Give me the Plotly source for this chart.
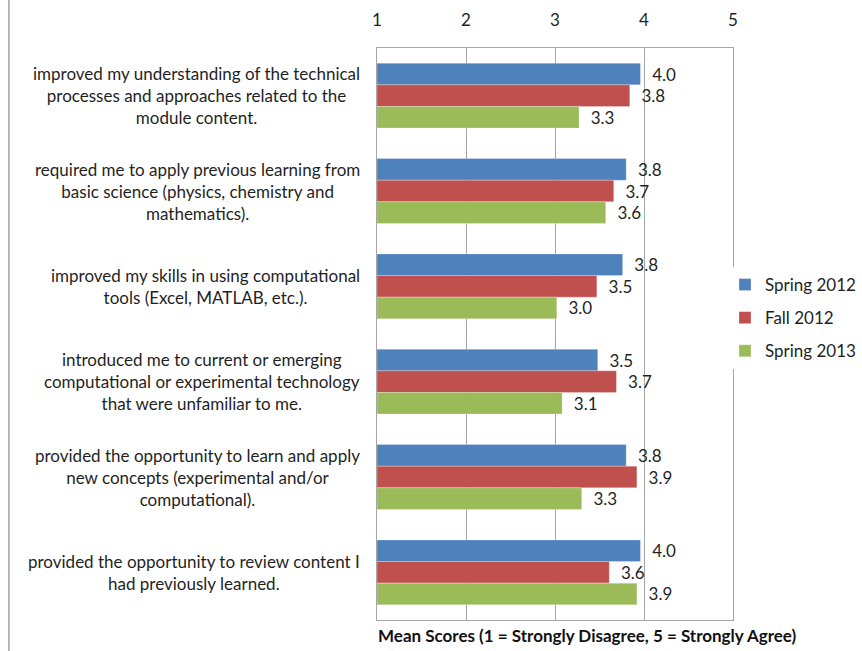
import plotly.graph_objects as go

categories = [
    "improved my understanding of the technical<br>processes and approaches related to the<br>module content.",
    "required me to apply previous learning from<br>basic science (physics, chemistry and<br>mathematics).",
    "improved my skills in using computational<br>tools (Excel, MATLAB, etc.).",
    "introduced me to current or emerging<br>computational or experimental technology<br>that were unfamiliar to me.",
    "provided the opportunity to learn and apply<br>new concepts (experimental and/or<br>computational).",
    "provided the opportunity to review content I<br>had previously learned.",
]
cat_ids = ["c1", "c2", "c3", "c4", "c5", "c6"]

spring_2012 = [3.96, 3.80, 3.76, 3.48, 3.80, 3.96]
fall_2012 = [3.84, 3.66, 3.47, 3.69, 3.92, 3.61]
spring_2013 = [3.27, 3.57, 3.02, 3.08, 3.30, 3.92]

series = [
    ("Spring 2012", spring_2012, "#4F81BD"),
    ("Fall 2012", fall_2012, "#C0504D"),
    ("Spring 2013", spring_2013, "#9BBB59"),
]
x_ticks = [1, 2, 3, 4, 5]
AXIS_MIN = 1

FONT = "Lato, 'Open Sans', sans-serif"
TXT = "#1f1f1f"
FS = 17

fig = go.Figure()
for name, vals, color in series:
    fig.add_trace(go.Bar(
        y=cat_ids, x=[v - AXIS_MIN for v in vals], base=AXIS_MIN,
        orientation="h", name=name,
        marker=dict(color=color, line=dict(color="rgba(255,255,255,0.5)", width=0.5)),
        texttemplate="  %{customdata:.1f}", customdata=vals,
        textposition="outside", cliponaxis=False,
        textfont=dict(family=FONT, size=FS, color=TXT),
        legendgroup=name,
    ))

for cid, label in zip(cat_ids, categories):
    fig.add_annotation(
        x=0, xref="paper", xanchor="right", xshift=-15,
        y=cid, yref="y", yanchor="middle",
        text=label, align="center", showarrow=False,
        font=dict(family=FONT, size=FS, color=TXT),
    )

fig.add_annotation(
    x=0, xref="paper", xanchor="left", xshift=-1,
    y=0, yref="paper", yanchor="top", yshift=-3,
    text="<b>Mean Scores (1 = Strongly Disagree, 5 = Strongly Agree)</b>",
    showarrow=False, font=dict(family=FONT, size=FS, color="#111"),
)

fig.add_shape(
    type="line", xref="paper", yref="paper",
    x0=-1.034, x1=-1.034, y0=-0.06, y1=1.09,
    line=dict(color="#A0A0A0", width=1.5),
)

fig.update_layout(
    width=862, height=651,
    margin=dict(l=377, r=129, t=48, b=31, autoexpand=False),
    paper_bgcolor="white", plot_bgcolor="white",
    barmode="group", bargap=0.32, bargroupgap=0,
    font=dict(family=FONT, size=FS, color=TXT),
    legend=dict(
        xref="container", yref="container",
        x=725 / 862, xanchor="left", y=1 - 318 / 651, yanchor="middle",
        traceorder="grouped", tracegroupgap=8,
        font=dict(family=FONT, size=FS, color=TXT),
        itemwidth=30,
    ),
    xaxis=dict(
        side="top", range=[1, 5], tickvals=x_ticks,
        ticktext=[str(t) for t in x_ticks],
        showgrid=True, gridcolor="#A6A6A6", gridwidth=1,
        showline=True, linecolor="#A6A6A6", mirror=True,
        zeroline=False, ticks="", ticklabelstandoff=14, automargin=False,
        tickfont=dict(family=FONT, size=FS, color=TXT),
    ),
    yaxis=dict(
        autorange="reversed", showticklabels=False, automargin=False,
        showline=True, linecolor="#A6A6A6", mirror=True,
        showgrid=False, ticks="",
    ),
)

fig.write_html(
    "out.html",
    config={"displayModeBar": False},
    post_script="document.body.style.margin='0px';document.body.style.padding='0px';",
)
